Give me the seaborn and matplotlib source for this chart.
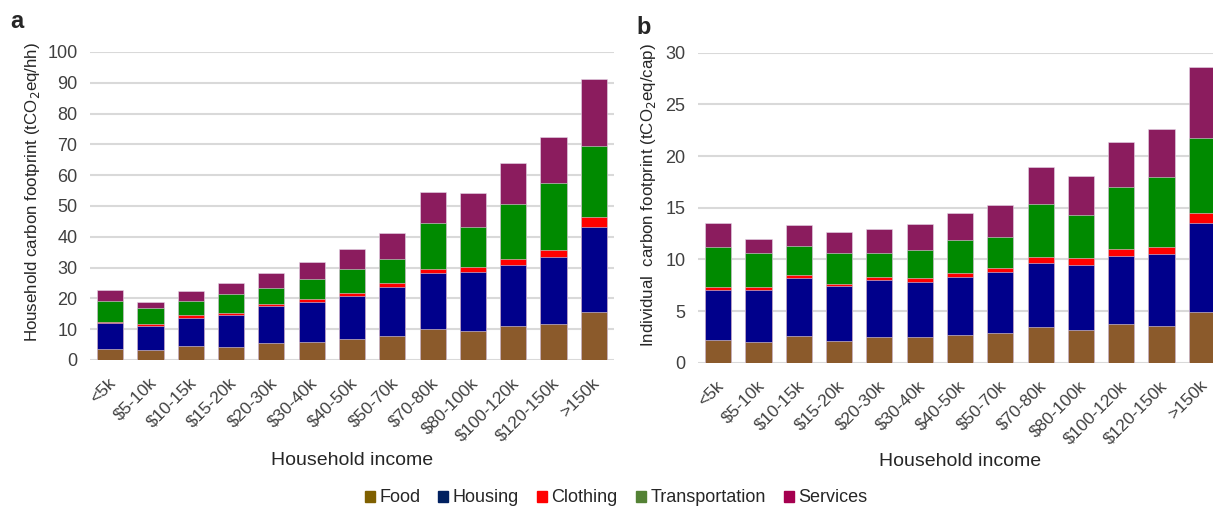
import numpy as np
import pandas as pd
import matplotlib
matplotlib.use("Agg")
import matplotlib.pyplot as plt
import matplotlib.transforms as mtransforms
import seaborn as sns

# Income brackets
incomes = ["<5k", "$5-10k", "$10-15k", "$15-20k", "$20-30k", "$30-40k", "$40-50k",
           "$50-70k", "$70-80k", "$80-100k", "$100-120k", "$120-150k", ">150k"]
categories = ["Food", "Housing", "Clothing", "Transportation", "Services"]

# Household footprint (tCO2eq/hh) by consumption category
hh_food = [3.6, 3.2, 4.4, 4.1, 5.5, 5.8, 6.7, 7.9, 10.2, 9.5, 11.0, 11.6, 15.6]
hh_housing = [8.3, 7.8, 9.2, 10.6, 12.1, 12.9, 14.1, 15.8, 18.0, 19.0, 20.0, 22.0, 27.5]
hh_clothing = [0.4, 0.6, 0.9, 0.5, 0.7, 1.0, 0.8, 1.2, 1.2, 1.7, 1.8, 2.1, 3.2]
hh_transport = [6.8, 5.2, 4.6, 6.2, 5.1, 6.5, 8.0, 8.0, 15.1, 12.9, 18.0, 21.7, 23.2]
hh_services = [3.6, 2.1, 3.3, 3.6, 4.8, 5.7, 6.6, 8.3, 10.1, 11.2, 13.3, 14.9, 21.7]

# Per-capita footprint (tCO2eq/cap) by consumption category
cap_food = [2.2, 2.0, 2.6, 2.1, 2.5, 2.45, 2.7, 2.9, 3.45, 3.2, 3.7, 3.6, 4.9]
cap_housing = [4.86, 5.06, 5.56, 5.32, 5.5, 5.35, 5.6, 5.84, 6.23, 6.3, 6.65, 6.9, 8.6]
cap_clothing = [0.26, 0.26, 0.32, 0.23, 0.3, 0.4, 0.4, 0.46, 0.52, 0.6, 0.62, 0.7, 1.0]
cap_transport = [3.88, 3.28, 2.82, 3.0, 2.35, 2.7, 3.2, 3.0, 5.15, 4.2, 6.0, 6.8, 7.2]
cap_services = [2.3, 1.4, 2.0, 1.95, 2.25, 2.5, 2.6, 3.1, 3.55, 3.8, 4.43, 4.6, 6.9]

bar_colors = ["#8B5A2B", "#00008B", "#FF0000", "#008A00", "#8B1C5E"]
legend_colors = ["#7F6000", "#002060", "#FF0000", "#548235", "#A50050"]

sns.set_theme(style="white")
plt.rcParams["font.family"] = ["Liberation Sans", "DejaVu Sans"]

W, H = 1213, 509
fig = plt.figure(figsize=(W / 100, H / 100), dpi=100)


def px_axes(x0, x1, ytop, ybot):
    return fig.add_axes([x0 / W, 1 - ybot / H, (x1 - x0) / W, (ybot - ytop) / H])


def stacked(ax, layers, ymax, step, ylabel, xlab_y, ylab_xy):
    df = pd.DataFrame({"income": incomes})
    cum = np.cumsum(np.array(layers), axis=0)
    # draw cumulative totals from the top layer down so each lower layer overlays
    for i in range(len(categories) - 1, -1, -1):
        df["v"] = cum[i]
        sns.barplot(data=df, x="income", y="v", ax=ax, color=bar_colors[i],
                    saturation=1, width=0.65, edgecolor="#E6D8E8", linewidth=0.4,
                    order=incomes)
    ax.set_ylim(0, ymax)
    ax.set_xlim(-0.5, len(incomes) - 0.5)
    ax.set_yticks(np.arange(0, ymax + 0.01, step))
    ax.yaxis.grid(True, color="#D9D9D9", linewidth=1.5)
    ax.set_axisbelow(True)
    for s in ax.spines.values():
        s.set_visible(False)
    ax.tick_params(axis="both", length=0, labelsize=13, labelcolor="#404040")
    ax.tick_params(axis="x", labelsize=12.5, pad=11)
    ax.tick_params(axis="y", pad=9)
    shift = mtransforms.ScaledTranslation(-2 / 100, 0, fig.dpi_scale_trans)
    for lab in ax.get_xticklabels():
        lab.set_rotation(45)
        lab.set_ha("right")
        lab.set_va("top")
        lab.set_rotation_mode("anchor")
        lab.set_transform(lab.get_transform() + shift)
    ax.set_xlabel("Household income", fontsize=14, color="#262626")
    ax.xaxis.set_label_coords(0.5, xlab_y)
    ax.set_ylabel(ylabel, fontsize=12.2, color="#262626")
    ax.yaxis.set_label_coords(*ylab_xy)


ax_a = px_axes(90, 614, 52, 360)
stacked(ax_a, [hh_food, hh_housing, hh_clothing, hh_transport, hh_services], 100, 10,
        "Household carbon footprint (tCO$_2$eq/hh)", -0.30, (-0.092, 0.545))

ax_b = px_axes(698, 1222, 52.7, 362.7)
stacked(ax_b, [cap_food, cap_housing, cap_clothing, cap_transport, cap_services], 30, 5,
        "Individual  carbon footprint (tCO$_2$eq/cap)", -0.29, (-0.076, 0.541))

fig.text(10 / W, 1 - 22 / H, "a", fontsize=17, fontweight="bold", va="center", ha="left")
fig.text(636 / W, 1 - 27 / H, "b", fontsize=17, fontweight="bold", va="center", ha="left")

handles = [plt.Rectangle((0, 0), 1, 1, color=c) for c in legend_colors]
fig.legend(handles, categories, loc="center", bbox_to_anchor=(616 / W, 1 - 498 / H),
           ncol=5, frameon=False, fontsize=13, handlelength=0.55, handleheight=0.55,
           handletextpad=0.25, columnspacing=1.0, borderpad=0)

fig.savefig("out.png", dpi=100)
